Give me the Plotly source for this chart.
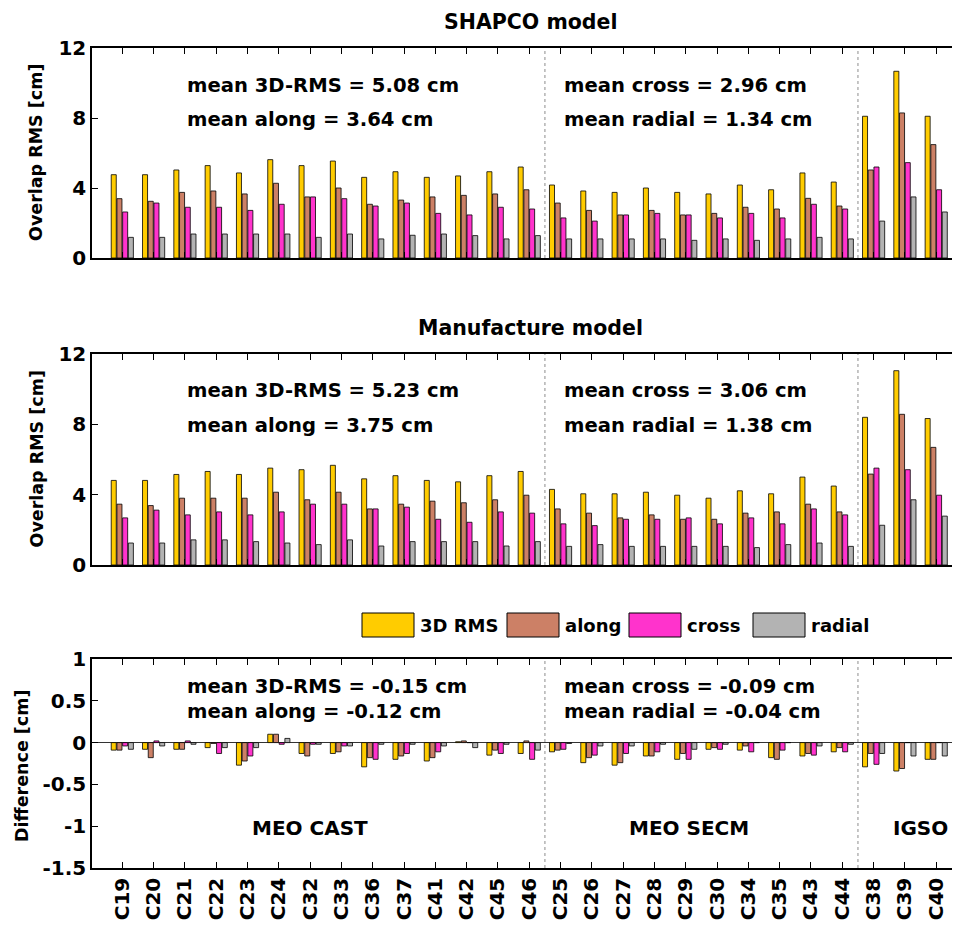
import plotly.graph_objects as go

categories = ["C19", "C20", "C21", "C22", "C23", "C24", "C32", "C33", "C36", "C37", "C41", "C42", "C45", "C46",
              "C25", "C26", "C27", "C28", "C29", "C30", "C34", "C35", "C43", "C44", "C38", "C39", "C40"]
series_names = ["3D RMS", "along", "cross", "radial"]
series_colors = ["#FFCC00", "#CC8066", "#FF33CC", "#B3B3B3"]

shapco_3d = [4.76, 4.76, 5.03, 5.28, 4.86, 5.62, 5.28, 5.54, 4.61, 4.93, 4.61, 4.69, 4.93, 5.20,
             4.17, 3.83, 3.75, 4.00, 3.75, 3.66, 4.17, 3.90, 4.86, 4.34, 8.10, 10.67, 8.10]
shapco_along = [3.39, 3.24, 3.75, 3.83, 3.66, 4.27, 3.49, 4.00, 3.07, 3.31, 3.49, 3.58, 3.66, 3.90,
                3.14, 2.72, 2.46, 2.72, 2.46, 2.55, 2.90, 2.80, 3.41, 2.97, 5.03, 8.29, 6.48]
shapco_cross = [2.63, 3.14, 2.90, 2.90, 2.72, 3.07, 3.49, 3.39, 2.97, 3.14, 2.55, 2.46, 2.90, 2.80,
                2.29, 2.11, 2.46, 2.55, 2.46, 2.29, 2.55, 2.29, 3.07, 2.80, 5.20, 5.45, 3.90]
shapco_radial = [1.18, 1.18, 1.37, 1.37, 1.37, 1.37, 1.18, 1.37, 1.09, 1.30, 1.37, 1.28, 1.09, 1.28,
                 1.09, 1.09, 1.09, 1.09, 1.01, 1.09, 1.01, 1.09, 1.18, 1.09, 2.11, 3.49, 2.63]

manuf_3d = [4.81, 4.81, 5.15, 5.32, 5.15, 5.51, 5.42, 5.67, 4.90, 5.08, 4.81, 4.73, 5.08, 5.32,
            4.30, 4.05, 4.05, 4.14, 3.97, 3.80, 4.22, 4.05, 5.00, 4.49, 8.40, 11.05, 8.33]
manuf_along = [3.46, 3.38, 3.80, 3.80, 3.80, 4.14, 3.71, 4.14, 3.19, 3.46, 3.63, 3.54, 3.71, 3.97,
               3.19, 2.95, 2.68, 2.85, 2.60, 2.60, 2.95, 3.02, 3.46, 3.02, 5.17, 8.57, 6.69]
manuf_cross = [2.68, 3.12, 2.85, 3.02, 2.85, 3.02, 3.46, 3.46, 3.19, 3.29, 2.60, 2.43, 3.02, 2.95,
               2.34, 2.24, 2.60, 2.60, 2.68, 2.34, 2.68, 2.34, 3.19, 2.85, 5.51, 5.42, 3.97]
manuf_radial = [1.25, 1.25, 1.43, 1.43, 1.33, 1.25, 1.16, 1.43, 1.08, 1.33, 1.33, 1.33, 1.08, 1.33,
                1.06, 1.16, 1.06, 1.06, 1.06, 1.06, 0.99, 1.16, 1.25, 1.06, 2.26, 3.71, 2.78]

diff_3d = [-0.09, -0.08, -0.08, -0.06, -0.27, 0.10, -0.13, -0.13, -0.29, -0.20, -0.22, 0.01, -0.15, -0.13,
           -0.11, -0.24, -0.27, -0.16, -0.20, -0.08, -0.09, -0.18, -0.16, -0.11, -0.29, -0.34, -0.20]
diff_along = [-0.09, -0.18, -0.08, -0.01, -0.22, 0.10, -0.16, -0.11, -0.18, -0.16, -0.18, 0.02, -0.09, 0.02,
              -0.09, -0.18, -0.24, -0.16, -0.13, -0.06, -0.04, -0.20, -0.13, -0.06, -0.13, -0.31, -0.20]
diff_cross = [-0.04, 0.02, 0.02, -0.13, -0.16, -0.02, -0.02, -0.04, -0.20, -0.13, -0.11, 0.00, -0.13, -0.20,
              -0.08, -0.15, -0.13, -0.11, -0.20, -0.08, -0.11, -0.09, -0.15, -0.11, -0.26, 0.00, 0.00]
diff_radial = [-0.08, -0.04, -0.02, -0.06, -0.06, 0.05, -0.02, -0.04, -0.02, -0.02, -0.04, -0.06, -0.02, -0.09,
               -0.01, -0.04, -0.04, -0.02, -0.08, -0.02, 0.00, 0.00, -0.04, -0.02, -0.13, -0.16, -0.16]

panel_titles = ["SHAPCO model", "Manufacture model"]
y_titles = ["Overlap RMS [cm]", "Overlap RMS [cm]", "Difference [cm]"]
mean_left = [["mean 3D-RMS = 5.08 cm", "mean along = 3.64 cm"],
             ["mean 3D-RMS = 5.23 cm", "mean along = 3.75 cm"],
             ["mean 3D-RMS = -0.15 cm", "mean along = -0.12 cm"]]
mean_right = [["mean cross = 2.96 cm", "mean radial = 1.34 cm"],
              ["mean cross = 3.06 cm", "mean radial = 1.38 cm"],
              ["mean cross = -0.09 cm", "mean radial = -0.04 cm"]]
group_labels = ["MEO CAST", "MEO SECM", "IGSO"]
group_label_pos = [6.0, 18.1, 25.5]
separators = [13.5, 23.5]
rms_ticks = [0, 4, 8, 12]
diff_ticks = [-1.5, -1, -0.5, 0, 0.5, 1]
diff_ticktext = ["-1.5", "-1", "-0.5", "0", "0.5", "1"]

OFF = 8                      # default page body margin in the browser
W, H = 960 - OFF, 925 - OFF
L = 92 - OFF
FONT = "DejaVu Sans"


def px(x):
    """page x pixel -> paper coordinate"""
    return (x - OFF - L) / (W - L)


def py(y):
    """page y pixel -> paper coordinate"""
    return 1 - (y - OFF) / H


panels = [
    ([shapco_3d, shapco_along, shapco_cross, shapco_radial], (48, 258)),
    ([manuf_3d, manuf_along, manuf_cross, manuf_radial], (354, 565)),
    ([diff_3d, diff_along, diff_cross, diff_radial], (659, 868)),
]

fig = go.Figure()
layout = dict(
    width=W, height=H, margin=dict(l=L, r=0, t=0, b=0, autoexpand=False),
    paper_bgcolor="white", plot_bgcolor="white",
    barmode="group", bargap=0.27, bargroupgap=0.12,
    showlegend=False,
    font=dict(family=FONT, size=18, color="black", weight="bold"),
)

xrange = [-0.968, 26.76]
annotations = []
shapes = []
for i, (vals, (ytop, ybot)) in enumerate(panels):
    n = "" if i == 0 else str(i + 1)
    for name, color, v in zip(series_names, series_colors, vals):
        fig.add_trace(go.Bar(
            x=categories, y=v, name=name, xaxis="x" + n, yaxis="y" + n,
            marker=dict(color=color, line=dict(color="black", width=0.8)),
        ))
    last = i == 2
    layout["xaxis" + n] = dict(
        domain=[0, 1], anchor="y" + n, type="category", range=xrange, automargin=False,
        showline=True, linecolor="black", linewidth=1.5, mirror="ticks",
        ticks="inside", ticklen=6, tickcolor="black", tickwidth=1,
        showgrid=False, zeroline=False,
        showticklabels=last, tickangle=-90,
        tickfont=dict(family=FONT, size=20, weight="bold"),
        matches=None if i == 0 else "x",
    )
    ydict = dict(
        domain=[py(ybot), py(ytop)], anchor="x" + n, automargin=False,
        showline=True, linecolor="black", linewidth=1.5,
        ticks="inside", ticklen=6, tickcolor="black", tickwidth=1,
        showgrid=False,
        tickfont=dict(family=FONT, size=20, weight="bold"),
    )
    if not last:
        ydict.update(range=[0, 12], tickvals=rms_ticks, zeroline=False)
    else:
        ydict.update(range=[-1.5, 1], tickvals=diff_ticks, ticktext=diff_ticktext,
                     zeroline=True, zerolinecolor="#333", zerolinewidth=1.2)
    layout["yaxis" + n] = ydict

    annotations.append(dict(text=y_titles[i], xref="paper", yref="paper",
                            x=px(36 if not last else 22), y=py((ytop + ybot) / 2 if not last else 766),
                            xanchor="center", yanchor="middle", textangle=-90, showarrow=False,
                            font=dict(family=FONT, size=17.5, weight="bold")))

    for s in separators:
        shapes.append(dict(type="line", xref="x" + n, yref="y" + n + " domain",
                           x0=s, x1=s, y0=0, y1=1,
                           line=dict(color="#A0A0A0", width=1.2, dash="dot")))

    if not last:
        y1, y2 = ytop + 37, ytop + 71
    else:
        y1, y2 = ytop + 27, ytop + 52
    for txt, yy in zip(mean_left[i], (y1, y2)):
        annotations.append(dict(text=txt, xref="paper", yref="paper", x=px(185), y=py(yy),
                                xanchor="left", yanchor="middle", showarrow=False,
                                font=dict(family=FONT, size=19.6, weight="bold")))
    for txt, yy in zip(mean_right[i], (y1, y2)):
        annotations.append(dict(text=txt, xref="paper", yref="paper", x=px(562), y=py(yy),
                                xanchor="left", yanchor="middle", showarrow=False,
                                font=dict(family=FONT, size=19.6, weight="bold")))
    if not last:
        annotations.append(dict(text=panel_titles[i], xref="paper", yref="paper",
                                x=px(530), y=py(ytop - 26), xanchor="center", yanchor="middle",
                                showarrow=False, font=dict(family=FONT, size=20.5, weight="bold")))

for lab, xp in zip(group_labels, group_label_pos):
    annotations.append(dict(text=lab, xref="x3", yref="y3", x=xp, y=-1.02,
                            xanchor="center", yanchor="middle", showarrow=False,
                            font=dict(family=FONT, size=20, weight="bold")))

# legend drawn as boxes + labels
leg_boxes = [362, 507, 629, 753]
for name, color, x0 in zip(series_names, series_colors, leg_boxes):
    shapes.append(dict(type="rect", xref="paper", yref="paper",
                       x0=px(x0), x1=px(x0 + 52), y0=py(637), y1=py(613),
                       fillcolor=color, line=dict(color="black", width=1)))
    annotations.append(dict(text=name, xref="paper", yref="paper", x=px(x0 + 56), y=py(625),
                            xanchor="left", yanchor="middle", showarrow=False,
                            font=dict(family=FONT, size=18, weight="bold")))

layout["annotations"] = annotations
layout["shapes"] = shapes
fig.update_layout(**layout)
fig.write_html("out.html")
